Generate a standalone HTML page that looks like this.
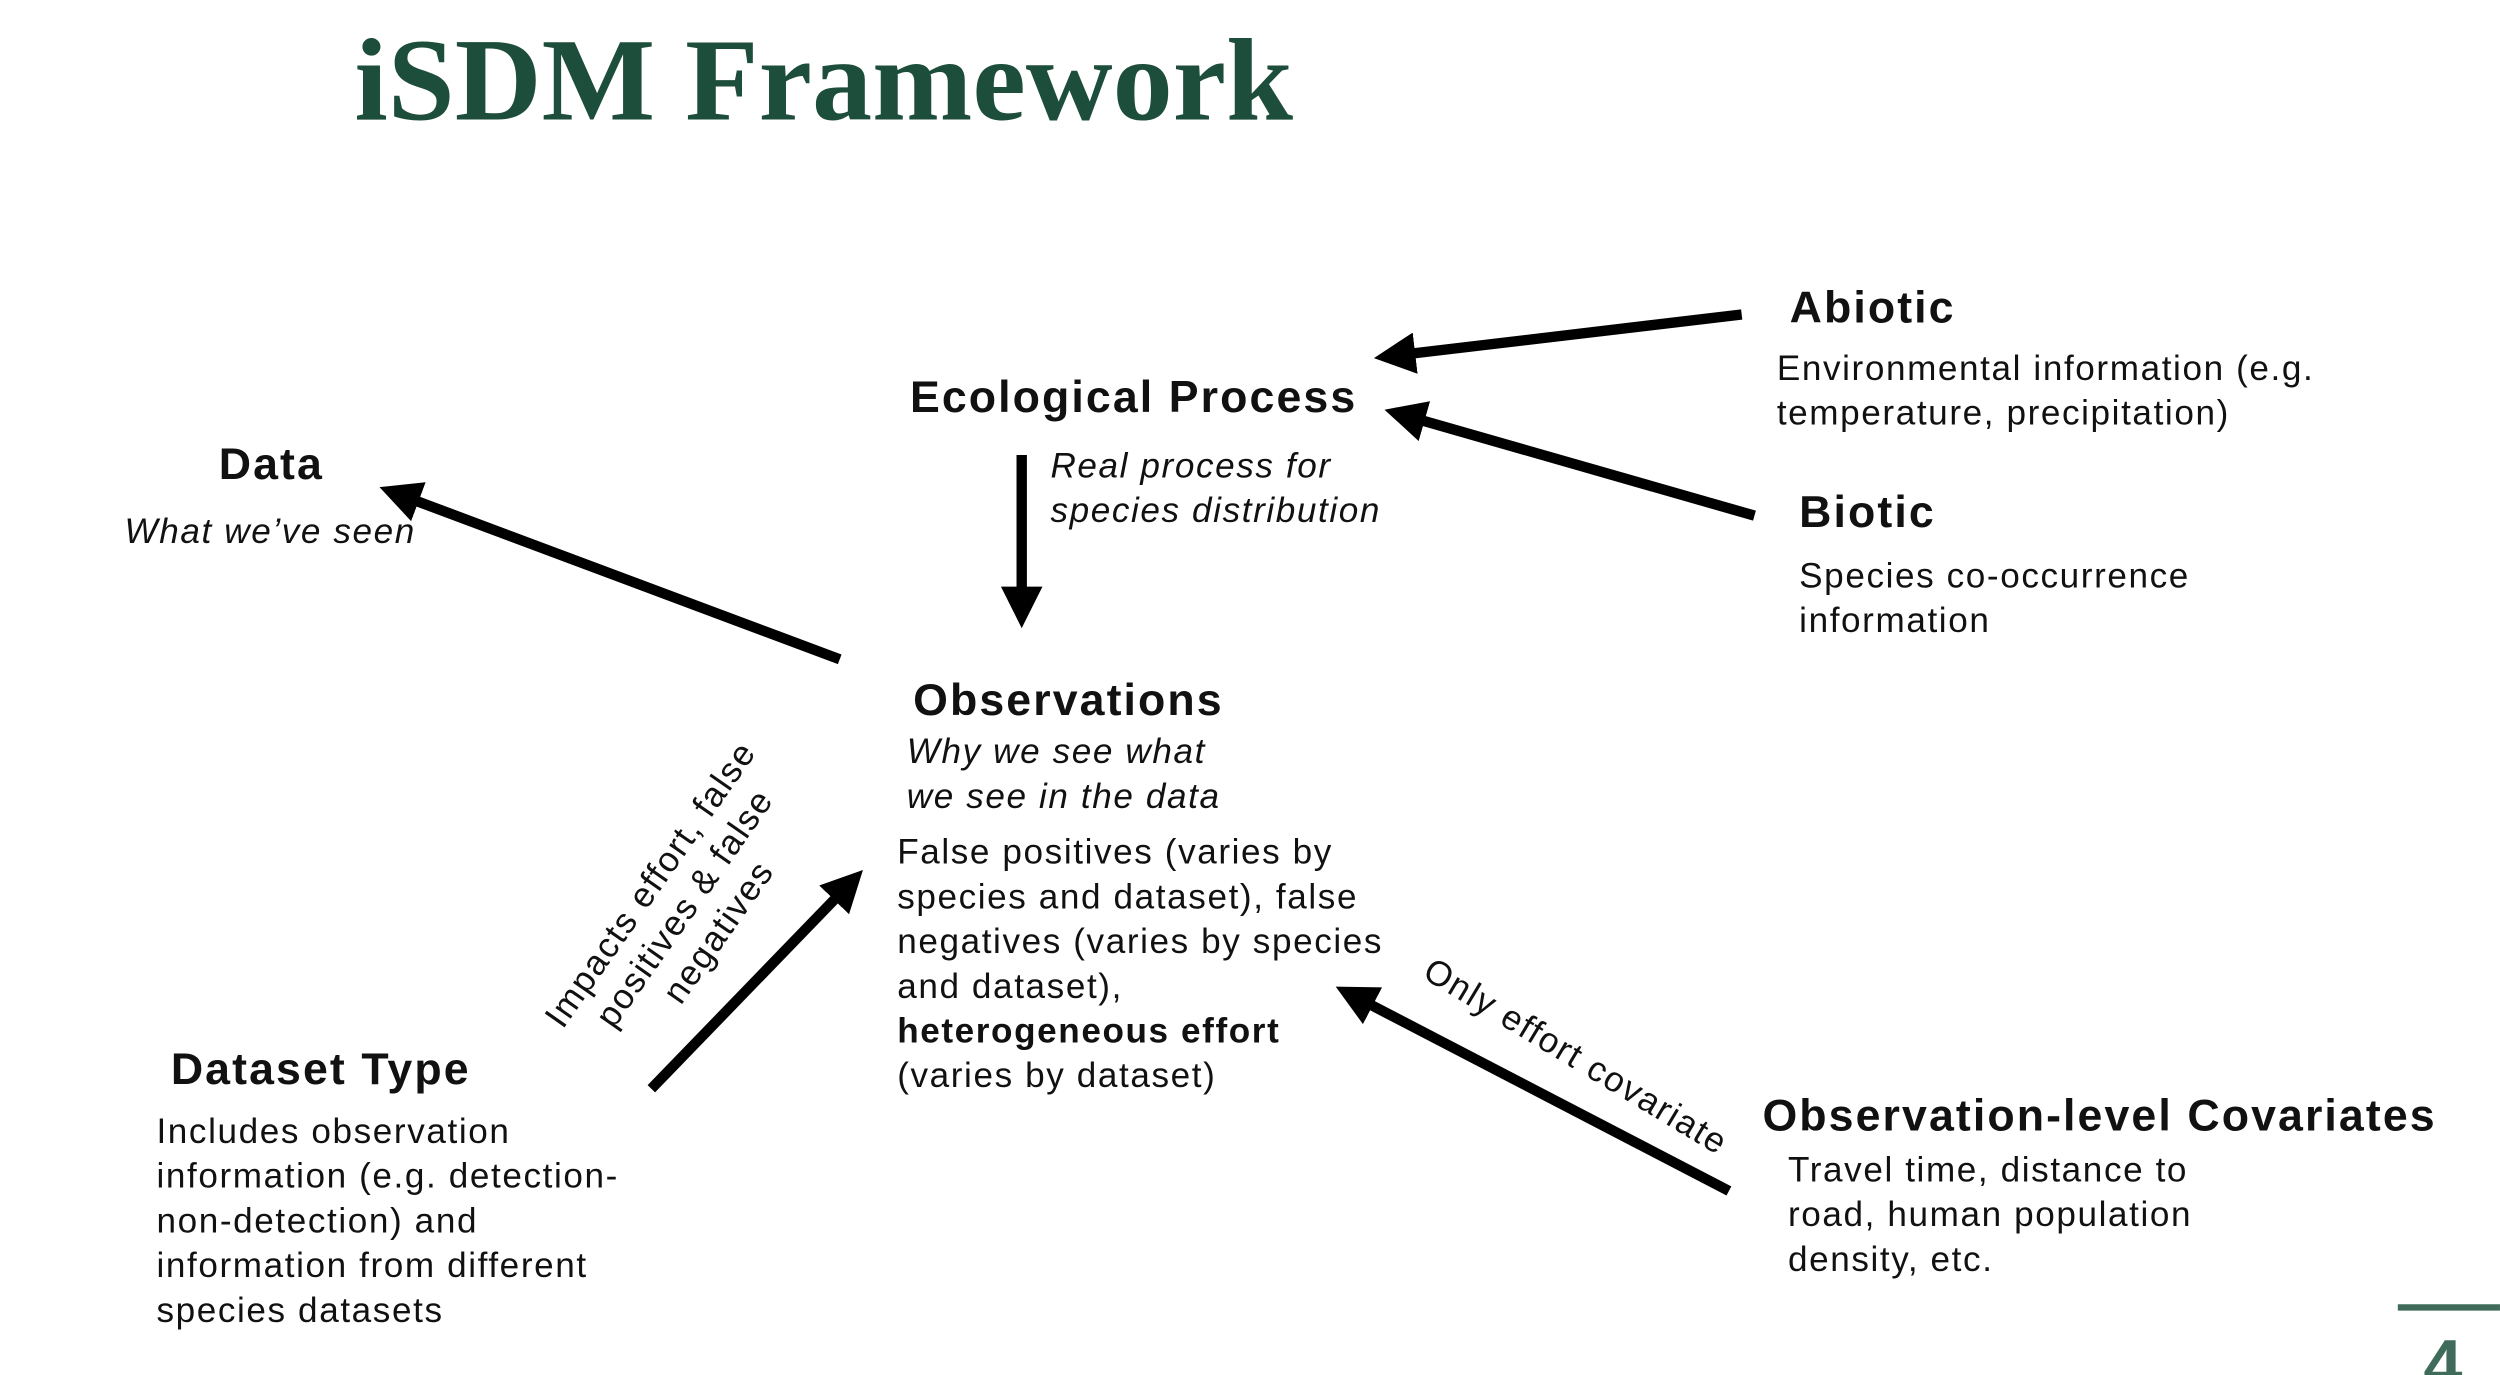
<!DOCTYPE html>
<html><head><meta charset="utf-8"><style>
html,body{margin:0;padding:0;background:#fff;overflow:hidden}
#w{width:1566px;height:862px;position:relative;transform:scale(1.59642);transform-origin:0 0;font-family:"Liberation Sans",sans-serif;color:#111}
.t{position:absolute;white-space:nowrap;font-size:22px;letter-spacing:1px;line-height:28px}
.h{position:absolute;white-space:nowrap;font-size:28px;letter-spacing:1.3px;font-weight:bold;line-height:32px}
.i{font-style:italic}
</style></head><body><div id="w">
<svg width="1566" height="862" style="position:absolute;left:0;top:0">
<defs><marker id="a" markerWidth="4" markerHeight="4" refX="1" refY="2" orient="auto" markerUnits="strokeWidth"><path d="M0,0 L4,2 L0,4 Z" fill="#000"/></marker></defs>
<text x="222" y="75" font-family="Liberation Serif,serif" font-weight="bold" font-size="74" fill="#1d4d3b" textLength="588" lengthAdjust="spacingAndGlyphs">iSDM Framework</text>
<g stroke="#000" stroke-width="6.5" fill="none" marker-end="url(#a)">
<line x1="1091" y1="197" x2="880" y2="222"/>
<line x1="1099" y1="323" x2="886" y2="262"/>
<line x1="640" y1="285" x2="640" y2="374"/>
<line x1="526" y1="413" x2="256" y2="312"/>
<line x1="408" y1="682" x2="527" y2="559"/>
<line x1="1083" y1="746" x2="854" y2="627"/>
</g>
<line x1="1502" y1="819" x2="1566" y2="819" stroke="#3f6b5a" stroke-width="4"/>
<text x="1518" y="870" font-family="Liberation Sans,sans-serif" font-weight="bold" font-size="44" fill="#3f6b5a">4</text>
</svg>
<div class="h" style="left:1121px;top:177px">Abiotic</div>
<div class="t" style="left:1113px;top:217px">Environmental information (e.g.<br>temperature, precipitation)</div>
<div class="h" style="left:570px;top:233px">Ecological Process</div>
<div class="h" style="left:137px;top:275px">Data</div>
<div class="t i" style="left:78px;top:319px">What we’ve seen</div>
<div class="t i" style="left:658px;top:278px">Real process for<br>species distribution</div>
<div class="h" style="left:1127px;top:305px">Biotic</div>
<div class="t" style="left:1127px;top:347px">Species co-occurrence<br>information</div>
<div class="h" style="left:572px;top:423px">Observations</div>
<div class="t i" style="left:568px;top:457px">Why we see what<br>we see in the data</div>
<div class="t" style="left:562px;top:520px">False positives (varies by<br>species and dataset), false<br>negatives (varies by species<br>and dataset),<br><b>heterogeneous effort</b><br>(varies by dataset)</div>
<div class="h" style="left:107px;top:654px">Dataset Type</div>
<div class="t" style="left:98px;top:695px">Includes observation<br>information (e.g. detection-<br>non-detection) and<br>information from different<br>species datasets</div>
<div class="h" style="left:1104px;top:683px">Observation-level Covariates</div>
<div class="t" style="left:1120px;top:719px">Travel time, distance to<br>road, human population<br>density, etc.</div>
<div class="t" style="left:429px;top:569px;transform:translate(-50%,-50%) rotate(-55deg);text-align:center;line-height:26px">Impacts effort, false<br>positives &amp; false<br>negatives</div>
<div class="t" style="left:987px;top:662px;transform:translate(-50%,-50%) rotate(31deg)">Only effort covariate</div>
</div></body></html>
